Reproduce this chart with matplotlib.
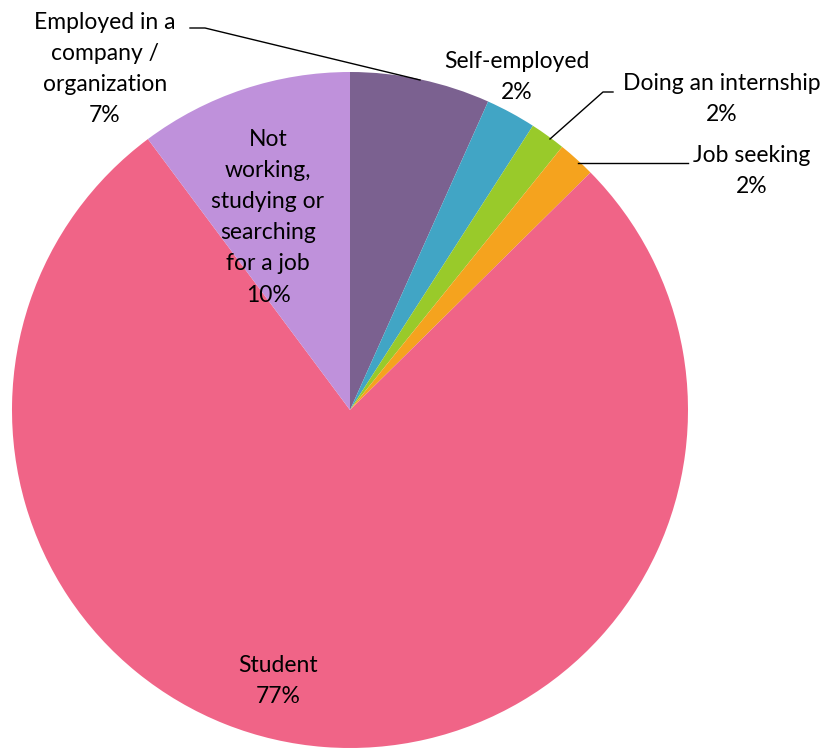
import matplotlib.pyplot as plt

plt.rcParams['font.family'] = ['Lato', 'DejaVu Sans']

categories = ['Employed in a\ncompany /\norganization', 'Self-employed', 'Doing an internship',
              'Job seeking', 'Student', 'Not\nworking,\nstudying or\nsearching\nfor a job']
shares = [6.7, 2.4, 1.7, 1.8, 77.2, 10.2]
colors = ['#7B6190', '#41A5C5', '#99CA2A', '#F5A31E', '#F06487', '#BF91DB']

W, H = 834, 748
fig = plt.figure(figsize=(W / 100, H / 100), dpi=100)
ax = fig.add_axes([0, 0, 1, 1])

cx, cy, r = 350, H - 410, 338
ax.pie(shares, colors=colors, startangle=90, counterclock=False,
       center=(cx, cy), radius=r, frame=True,
       wedgeprops=dict(linewidth=0))
ax.set_xlim(0, W)
ax.set_ylim(0, H)
ax.axis('off')

labels = [f'{c}\n{round(v)}%' for c, v in zip(categories, shares)]
# label centre positions (top-left pixel coords)
spots = [(105, 69), (517, 77), (722, 99), (752, 171), (278, 681), (268, 217)]
for lab, (x, y) in zip(labels, spots):
    ax.text(x, H - y, lab, ha='center', va='center', fontsize=16.5,
            linespacing=1.6, color='black')

# leader lines
def leader(pts):
    ax.plot([p[0] for p in pts], [H - p[1] for p in pts], color='black', lw=1)

leader([(190, 28), (205, 28), (420, 80)])
leader([(613, 92), (603, 92), (550, 139)])
leader([(688, 163), (578, 163)])

fig.savefig('out.png', dpi=100)
